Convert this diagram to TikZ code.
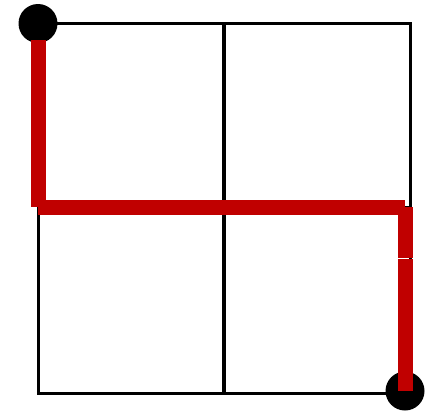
\documentclass[tikz,border=0pt]{standalone}
\definecolor{pathred}{RGB}{192,0,0}
\tikzset{
  gridline/.style={draw=black, line width=3.2pt},
  redpath/.style={draw=pathred, line width=15pt, line cap=butt},
  dot/.style={circle, fill=black, minimum size=39pt, inner sep=0pt}
}
\begin{document}
\begin{tikzpicture}[x=1pt,y=-1pt]
\useasboundingbox (0,0) rectangle (439,413);
% grid
\draw[gridline] (38.3,23.3) rectangle (410.5,393.2);
\draw[gridline] (224,23.3) -- (224,393.2);
\draw[gridline] (38.3,208) -- (410.5,208);
% dots
\node[dot] (start) at (38,23.5) {};
\node[dot] (goal) at (405,391) {};
% path coordinates
\coordinate (a) at (38.3,40);
\coordinate (b) at (38.3,207);
\coordinate (c) at (38.3,207.5);
\coordinate (d) at (405,207.5);
\coordinate (e) at (405,207);
\coordinate (f) at (405,258);
\coordinate (g) at (405,259);
\coordinate (h) at (405,391);
\draw[redpath] (a) -- (b);
\draw[redpath] (c) -- (d);
\draw[redpath] (e) -- (f);
\draw[redpath] (g) -- (h);
\end{tikzpicture}
\end{document}
